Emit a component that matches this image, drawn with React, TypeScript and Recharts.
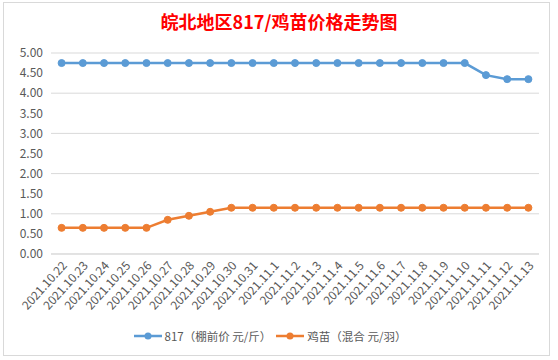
import { LineChart, Line, XAxis, YAxis, CartesianGrid, Legend } from 'recharts';

const dates = [
  '2021.10.22', '2021.10.23', '2021.10.24', '2021.10.25', '2021.10.26', '2021.10.27',
  '2021.10.28', '2021.10.29', '2021.10.30', '2021.10.31', '2021.11.1', '2021.11.2',
  '2021.11.3', '2021.11.4', '2021.11.5', '2021.11.6', '2021.11.7', '2021.11.8',
  '2021.11.9', '2021.11.10', '2021.11.11', '2021.11.12', '2021.11.13',
];

// 817 broiler price (yuan/jin)
const price817 = [
  4.75, 4.75, 4.75, 4.75, 4.75, 4.75, 4.75, 4.75, 4.75, 4.75, 4.75, 4.75,
  4.75, 4.75, 4.75, 4.75, 4.75, 4.75, 4.75, 4.75, 4.45, 4.35, 4.35,
];

// chick price (yuan/each)
const chickPrice = [
  0.65, 0.65, 0.65, 0.65, 0.65, 0.85, 0.95, 1.05, 1.15, 1.15, 1.15, 1.15,
  1.15, 1.15, 1.15, 1.15, 1.15, 1.15, 1.15, 1.15, 1.15, 1.15, 1.15,
];

const yTicks = [0, 0.5, 1, 1.5, 2, 2.5, 3, 3.5, 4, 4.5, 5];

const seriesNames = ['817（棚前价 元/斤）', '鸡苗（混合 元/羽）'];
const colors = ['#5B9BD5', '#ED7D31'];

const data = dates.map((d, i) => ({ date: d, a: price817[i], b: chickPrice[i] }));

const font = '"Noto Sans CJK SC", "Noto Sans", sans-serif';

const AngledTick = (props: any) => {
  const { x, y, payload } = props;
  const tx = x + 6;
  const ty = y + 4;
  return (
    <text
      x={tx}
      y={ty}
      transform={`rotate(-48, ${tx}, ${ty})`}
      textAnchor="end"
      fontSize={12}
      fill="#595959"
      fontFamily={font}
    >
      {payload.value}
    </text>
  );
};

const LegendContent = () => (
  <div style={{ display: 'flex', justifyContent: 'center', alignItems: 'center', fontSize: 11.5, color: '#595959', fontFamily: font }}>
    {seriesNames.map((n, i) => (
      <div key={n} style={{ display: 'flex', alignItems: 'center', marginRight: i === 0 ? 4 : 0 }}>
        <svg width={30} height={10} style={{ marginRight: 2 }}>
          <line x1={1} y1={5} x2={29} y2={5} stroke={colors[i]} strokeWidth={2.5} />
          <circle cx={15} cy={5} r={3.5} fill={colors[i]} />
        </svg>
        <span>{n}</span>
      </div>
    ))}
  </div>
);

export default function App() {
  return (
    <div style={{ position: 'absolute', left: 0, top: 0, width: 558, height: 360, background: '#fff' }}>
      <div
        style={{
          position: 'absolute', left: 3, top: 2, width: 547, height: 354,
          border: '1px solid #D9D9D9', boxSizing: 'border-box',
        }}
      />
      <div
        style={{
          position: 'absolute', left: 0, top: 8, width: 558, textAlign: 'center',
          fontSize: 18, fontWeight: 'bold', color: '#FF0000', fontFamily: font,
        }}
      >
        皖北地区817/鸡苗价格走势图
      </div>
      <div style={{ position: 'absolute', left: 0, top: 0 }}>
        <LineChart width={558} height={360} data={data} margin={{ top: 53, right: 19, left: 0, bottom: 8 }}>
          <CartesianGrid vertical={false} stroke="#D9D9D9" strokeWidth={1} />
          <XAxis
            dataKey="date"
            interval={0}
            tick={<AngledTick />}
            tickLine={false}
            axisLine={{ stroke: '#D9D9D9' }}
            height={74}
            padding={{ left: 10.6, right: 10.6 }}
          />
          <YAxis
            domain={[0, 5]}
            ticks={yTicks}
            width={51}
            tickFormatter={(v: number) => v.toFixed(2)}
            tick={{ fontSize: 12, fill: '#595959', fontFamily: font }}
            axisLine={false}
            tickLine={false}
          />
          <Legend verticalAlign="bottom" height={24} content={<LegendContent />} />
          <Line
            dataKey="a"
            name={seriesNames[0]}
            stroke={colors[0]}
            strokeWidth={2.5}
            dot={{ r: 3.5, fill: colors[0], stroke: colors[0], strokeWidth: 1 }}
            isAnimationActive={false}
          />
          <Line
            dataKey="b"
            name={seriesNames[1]}
            stroke={colors[1]}
            strokeWidth={2.5}
            dot={{ r: 3.5, fill: colors[1], stroke: colors[1], strokeWidth: 1 }}
            isAnimationActive={false}
          />
        </LineChart>
      </div>
    </div>
  );
}
